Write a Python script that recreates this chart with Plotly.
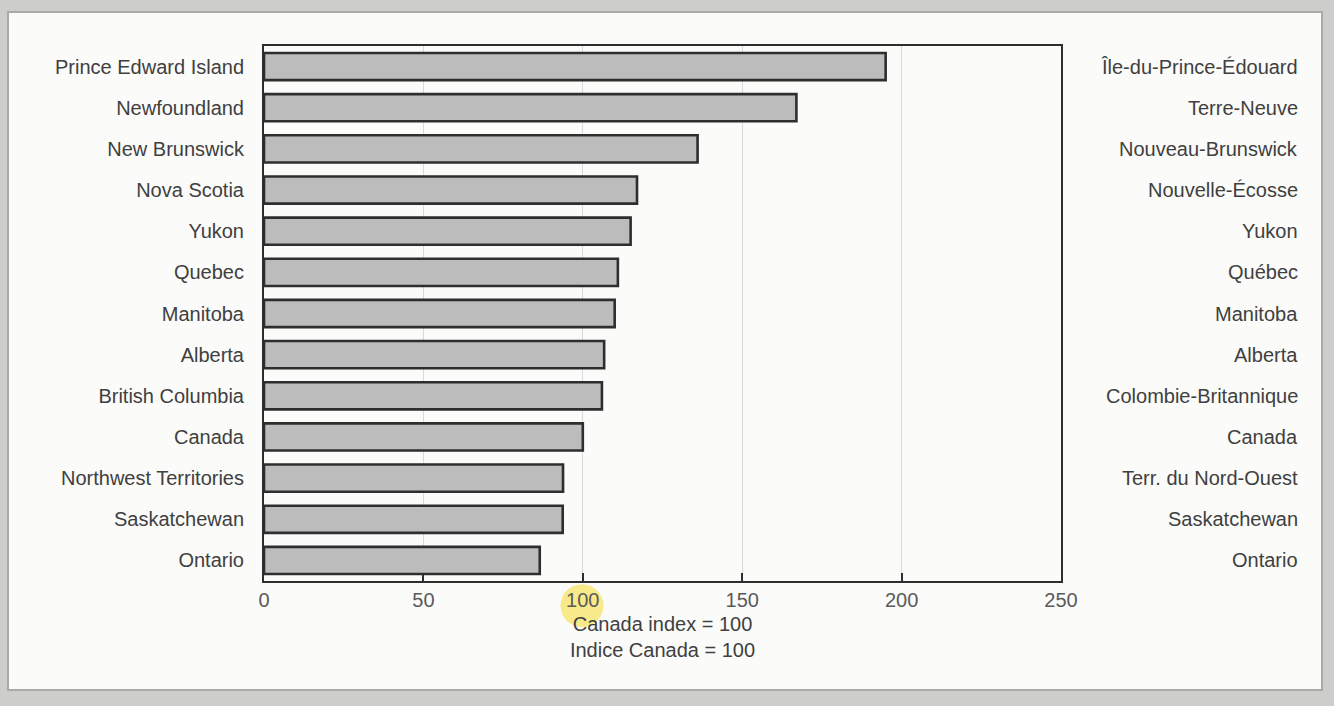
import plotly.graph_objects as go

regions_en = ["Prince Edward Island", "Newfoundland", "New Brunswick", "Nova Scotia",
              "Yukon", "Quebec", "Manitoba", "Alberta", "British Columbia", "Canada",
              "Northwest Territories", "Saskatchewan", "Ontario"]
regions_fr = ["Île-du-Prince-Édouard", "Terre-Neuve", "Nouveau-Brunswick", "Nouvelle-Écosse",
              "Yukon", "Québec", "Manitoba", "Alberta", "Colombie-Britannique", "Canada",
              "Terr. du Nord-Ouest", "Saskatchewan", "Ontario"]
index_values = [195, 167, 136, 117, 115, 111, 110, 106.7, 106, 100, 93.8, 93.7, 86.5]
x_ticks = [0, 50, 100, 150, 200, 250]

FONT = "Liberation Sans, Arial, Helvetica, sans-serif"
DARK = "#404040"
FS = 20

fig = go.Figure()
fig.add_trace(go.Bar(
    x=index_values, y=regions_en, orientation="h",
    marker=dict(color="#bcbcbc", line=dict(color="#2e2e2e", width=2.6)),
    showlegend=False, hoverinfo="x+y",
))

annotations = []
for en, fr in zip(regions_en, regions_fr):
    annotations.append(dict(
        x=1.2998, xref="paper", y=en, yref="y", text=fr, showarrow=False,
        xanchor="right", yanchor="middle",
        font=dict(family=FONT, size=FS, color=DARK),
    ))

shapes = [
    # scanned page: light inner area with grey border
    dict(type="rect", xref="paper", yref="paper", x0=-0.3212, x1=1.3275, y0=-0.2037, y1=1.0636,
         fillcolor="#fbfbfa", line=dict(color="#a9a9a9", width=2), layer="below"),
    # highlighter mark around "100" (behind the text)
    dict(type="circle", xref="paper", yref="paper", x0=0.3720, x1=0.4260, y0=-0.0860, y1=-0.0060,
         fillcolor="#f8ea8a", line=dict(width=0), layer="below"),
]

fig.update_layout(
    width=1334, height=706,
    margin=dict(l=264, r=273, t=46, b=125),
    paper_bgcolor="#cdcdcb",
    plot_bgcolor="#ffffff",
    bargap=0.34,
    font=dict(family=FONT, size=FS, color=DARK),
    annotations=annotations,
    shapes=shapes,
    xaxis=dict(
        range=[0, 250], tickvals=x_ticks, ticktext=[str(v) for v in x_ticks],
        ticks="inside", ticklen=8, tickwidth=2, tickcolor="#2e2e2e",
        showline=True, linecolor="#2e2e2e", linewidth=2, mirror=True,
        showgrid=True, gridcolor="#d9d9d9", gridwidth=1, zeroline=False,
        tickfont=dict(family=FONT, size=FS, color="#5a5a5a"),
        title=dict(text="Canada index = 100<br>Indice Canada = 100",
                   font=dict(family=FONT, size=FS, color=DARK), standoff=7),
    ),
    yaxis=dict(
        autorange="reversed", showline=True, linecolor="#2e2e2e", linewidth=2, mirror=True,
        showgrid=False, ticks="", ticklabelstandoff=14,
        tickfont=dict(family=FONT, size=FS, color=DARK),
    ),
)

fig.write_html("out.html", config={"displayModeBar": False},
               post_script="document.body.style.margin='0';document.body.style.overflow='hidden';")
